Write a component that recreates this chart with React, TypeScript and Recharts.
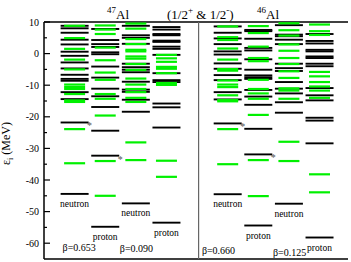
import { ScatterChart, Scatter, XAxis, YAxis, ReferenceLine, ReferenceDot } from 'recharts';

// single-particle levels (MeV)
// 47Al, beta = 0.653
const n653Black = [8.8, 8.0, 6.6, 4.4, 2.9, 0.6, -0.7, -2.8, -4.7, -6.7, -8.0, -8.6, -12.2, -14.4, -21.8, -44.4];
const n653Green = [8.8, 4.9, 1.5, -1.9, -5.0, -9.8, -10.6, -11.2, -12.8, -14.8, -15.3, -23.9, -34.7];
const p653Black = [7.8, 4.3, 3.0, 2.1, 0.4, -0.2, -4.1, -7.6, -11.1, -13.5, -16.9, -24.4, -32.3, -54.8];
const p653Green = [8.9, 7.6, 6.2, 1.9, -2.1, -6.0, -8.3, -12.8, -14.3, -19.6, -34.0, -45.0];
// 47Al, beta = 0.090
const n090Black = [8.8, 5.8, 5.0, 3.1, -3.2, -4.3, -5.1, -5.9, -8.9, -11.4, -12.1, -14.6, -18.4, -47.4];
const n090Green = [9.5, 7.9, 4.6, 3.0, 1.2, 0.7, -0.9, -1.6, -3.3, -5.2, -7.9, -9.8, -11.2, -12.2, -14.0, -15.3, -28.1, -33.7];
const p090Black = [8.4, 7.6, 6.2, 5.8, 4.1, 3.7, 2.2, 1.5, -0.4, -6.2, -8.4, -9.0, -15.8, -17.0, -23.4, -53.5];
const p090Green = [-0.4, -1.5, -2.6, -4.2, -4.8, -6.2, -9.3, -9.9, -33.9, -39.0];
// 46Al, beta = 0.660
const n660Black = [8.6, 6.6, 4.8, 3.0, 0.7, -0.3, -3.1, -4.8, -6.8, -8.4, -12.2, -14.5, -22.1, -44.5];
const n660Green = [8.6, 5.2, 4.3, 1.6, -1.9, -4.9, -5.4, -8.5, -9.8, -10.6, -13.2, -14.7, -15.1, -23.9, -35.0];
const p660Black = [7.5, 7.1, 4.7, 1.8, 1.0, -1.8, -5.1, -6.9, -7.5, -8.0, -11.5, -13.6, -16.2, -23.8, -31.9, -54.4];
const p660Green = [8.7, 6.5, 2.2, -1.4, -2.4, -8.3, -11.2, -12.6, -14.3, -19.4, -33.7, -45.1];
// 46Al, beta = 0.125
const n125Black = [9.0, 6.0, 5.5, 4.4, 3.0, -3.2, -4.6, -5.5, -9.0, -11.1, -12.6, -15.4, -18.7, -47.5];
const n125Green = [9.6, 7.4, 5.7, 2.9, 0.9, -1.4, -3.3, -5.6, -7.7, -11.0, -11.7, -14.3, -27.9, -34.0];
const p125Black = [6.2, 4.0, 3.2, 1.2, 0.7, -0.9, -1.4, -3.2, -4.0, -10.9, -13.2, -14.8, -20.3, -21.2, -28.4, -58.2];
const p125Green = [9.2, 7.1, 5.9, -5.8, -7.2, -9.0, -10.4, -11.7, -14.0, -38.2, -43.9];

const columnX = [1, 2, 3, 4, 6, 7, 8, 9];
const columnKind = ['neutron', 'proton', 'neutron', 'proton', 'neutron', 'proton', 'neutron', 'proton'];
const blackCols = [n653Black, p653Black, n090Black, p090Black, n660Black, p660Black, n125Black, p125Black];
const greenCols = [n653Green, p653Green, n090Green, p090Green, n660Green, p660Green, n125Green, p125Green];
const starredCols = [0, 1, 4, 5]; // second-lowest level marked with *

const yTicks = [10, 5, 0, -5, -10, -15, -20, -25, -30, -35, -40, -45, -50, -55, -60];

const blackData = blackCols.flatMap((lv, i) => lv.map((e) => ({ x: columnX[i], y: e })));
const greenData = greenCols.flatMap((lv, i) => lv.map((e) => ({ x: columnX[i], y: e })));
const kindData = blackCols.map((lv, i) => ({ x: columnX[i], y: Math.min(...lv), text: columnKind[i] }));
const starData = starredCols.map((i) => {
  const s = [...blackCols[i]].sort((a, b) => a - b);
  return { x: columnX[i], y: s[1] };
});

const serif = '"Liberation Serif", "Times New Roman", serif';

const BlackLevel = (p: any) => (
  <line x1={p.cx - 14} x2={p.cx + 14} y1={p.cy} y2={p.cy} stroke="#000" strokeWidth={1.9} />
);
const GreenLevel = (p: any) => (
  <line x1={p.cx - 10.5} x2={p.cx + 10.5} y1={p.cy} y2={p.cy} stroke="#00f000" strokeWidth={2.2} />
);
const KindLabel = (p: any) => (
  <text x={p.cx} y={p.cy + 13} textAnchor="middle" fontSize={9.5} fontFamily={serif} fill="#000">
    {p.payload.text}
  </text>
);
const Star = (p: any) => (
  <text x={p.cx + 15} y={p.cy + 7} textAnchor="middle" fontSize={10} fontFamily={serif} fill="#555">
    *
  </text>
);

const LeftTick = (p: any) => {
  const major = p.payload.value % 10 === 0;
  return (
    <g>
      <line x1={p.x} x2={p.x + (major ? 6 : 3)} y1={p.y} y2={p.y} stroke="#000" strokeWidth={1.2} />
      {major && (
        <text x={p.x - 5} y={p.y + 3.5} textAnchor="end" fontSize={10} fontFamily={serif} fill="#000">
          {p.payload.value}
        </text>
      )}
    </g>
  );
};
const RightTick = (p: any) => {
  const major = p.payload.value % 10 === 0;
  return <line x1={p.x} x2={p.x - (major ? 6 : 3)} y1={p.y} y2={p.y} stroke="#000" strokeWidth={1.2} />;
};

const YLabel = (p: any) => {
  const vb = p.viewBox || { x: 0, y: 22, width: 44, height: 237 };
  const cx = vb.x + 10;
  const cy = vb.y + vb.height / 2 + 3;
  return (
    <text transform={`translate(${cx},${cy}) rotate(-90)`} textAnchor="middle" fontSize={12} fontFamily={serif} fill="#000">
      ε<tspan fontSize={8} dy={3}>i</tspan>
      <tspan dy={-3}> (MeV)</tspan>
    </text>
  );
};

const BetaText = (text: string) => (p: any) => {
  const vb = p.viewBox;
  return (
    <text x={vb.x + vb.width / 2} y={vb.y + vb.height / 2 + 4} textAnchor="middle" fontSize={10} fontFamily={serif} fill="#000">
      {text}
    </text>
  );
};

const titleStyle: any = { position: 'absolute', fontFamily: serif, fontSize: 13, lineHeight: '13px', whiteSpace: 'nowrap' };
const supStyle: any = { fontSize: 9, verticalAlign: 'top', position: 'relative', top: -4 };

export default function App() {
  return (
    <div style={{ position: 'fixed', left: 0, top: 0, width: 351, height: 262, background: '#fff' }}>
      <ScatterChart width={351} height={262} margin={{ top: 22, right: 3, bottom: 3, left: 0 }}>
        <XAxis type="number" dataKey="x" domain={[0, 9.93]} hide />
        <YAxis
          yAxisId="l"
          type="number"
          dataKey="y"
          domain={[-65, 10]}
          ticks={yTicks}
          interval={0}
          width={44}
          tickSize={0}
          tickMargin={0}
          tickLine={false}
          tick={<LeftTick />}
          axisLine={{ stroke: '#000', strokeWidth: 1.5 }}
          label={<YLabel />}
          allowDataOverflow
        />
        <YAxis
          yAxisId="r"
          orientation="right"
          type="number"
          domain={[-65, 10]}
          ticks={yTicks}
          interval={0}
          width={0}
          tickSize={0}
          tickMargin={0}
          tickLine={false}
          tick={<RightTick />}
          axisLine={{ stroke: '#000', strokeWidth: 1.5 }}
          allowDataOverflow
        />
        <ReferenceLine yAxisId="l" y={10} stroke="#000" strokeWidth={1.5} />
        <ReferenceLine yAxisId="l" y={-65} stroke="#000" strokeWidth={1.5} />
        <ReferenceLine yAxisId="l" x={5.05} stroke="#666" strokeWidth={1.2} />
        <Scatter yAxisId="l" data={blackData} dataKey="y" shape={BlackLevel} isAnimationActive={false} />
        <Scatter yAxisId="l" data={greenData} dataKey="y" shape={GreenLevel} isAnimationActive={false} />
        <Scatter yAxisId="l" data={kindData} dataKey="y" shape={KindLabel} isAnimationActive={false} />
        <Scatter yAxisId="l" data={starData} dataKey="y" shape={Star} isAnimationActive={false} />
        <ReferenceDot yAxisId="l" x={1.15} y={-61.2} r={0} stroke="none" label={BetaText('β=0.653')} />
        <ReferenceDot yAxisId="l" x={3.02} y={-61.5} r={0} stroke="none" label={BetaText('β=0.090')} />
        <ReferenceDot yAxisId="l" x={5.7} y={-62.2} r={0} stroke="none" label={BetaText('β=0.660')} />
        <ReferenceDot yAxisId="l" x={8.02} y={-62.8} r={0} stroke="none" label={BetaText('β=0.125')} />
      </ScatterChart>
      <div style={{ ...titleStyle, left: 107, top: 8 }}>
        <span style={supStyle}>47</span>Al
      </div>
      <div style={{ ...titleStyle, left: 167, top: 8 }}>
        (1/2<span style={supStyle}>+</span> &amp; 1/2<span style={supStyle}>-</span>)
      </div>
      <div style={{ ...titleStyle, left: 257, top: 8 }}>
        <span style={supStyle}>46</span>Al
      </div>
    </div>
  );
}
